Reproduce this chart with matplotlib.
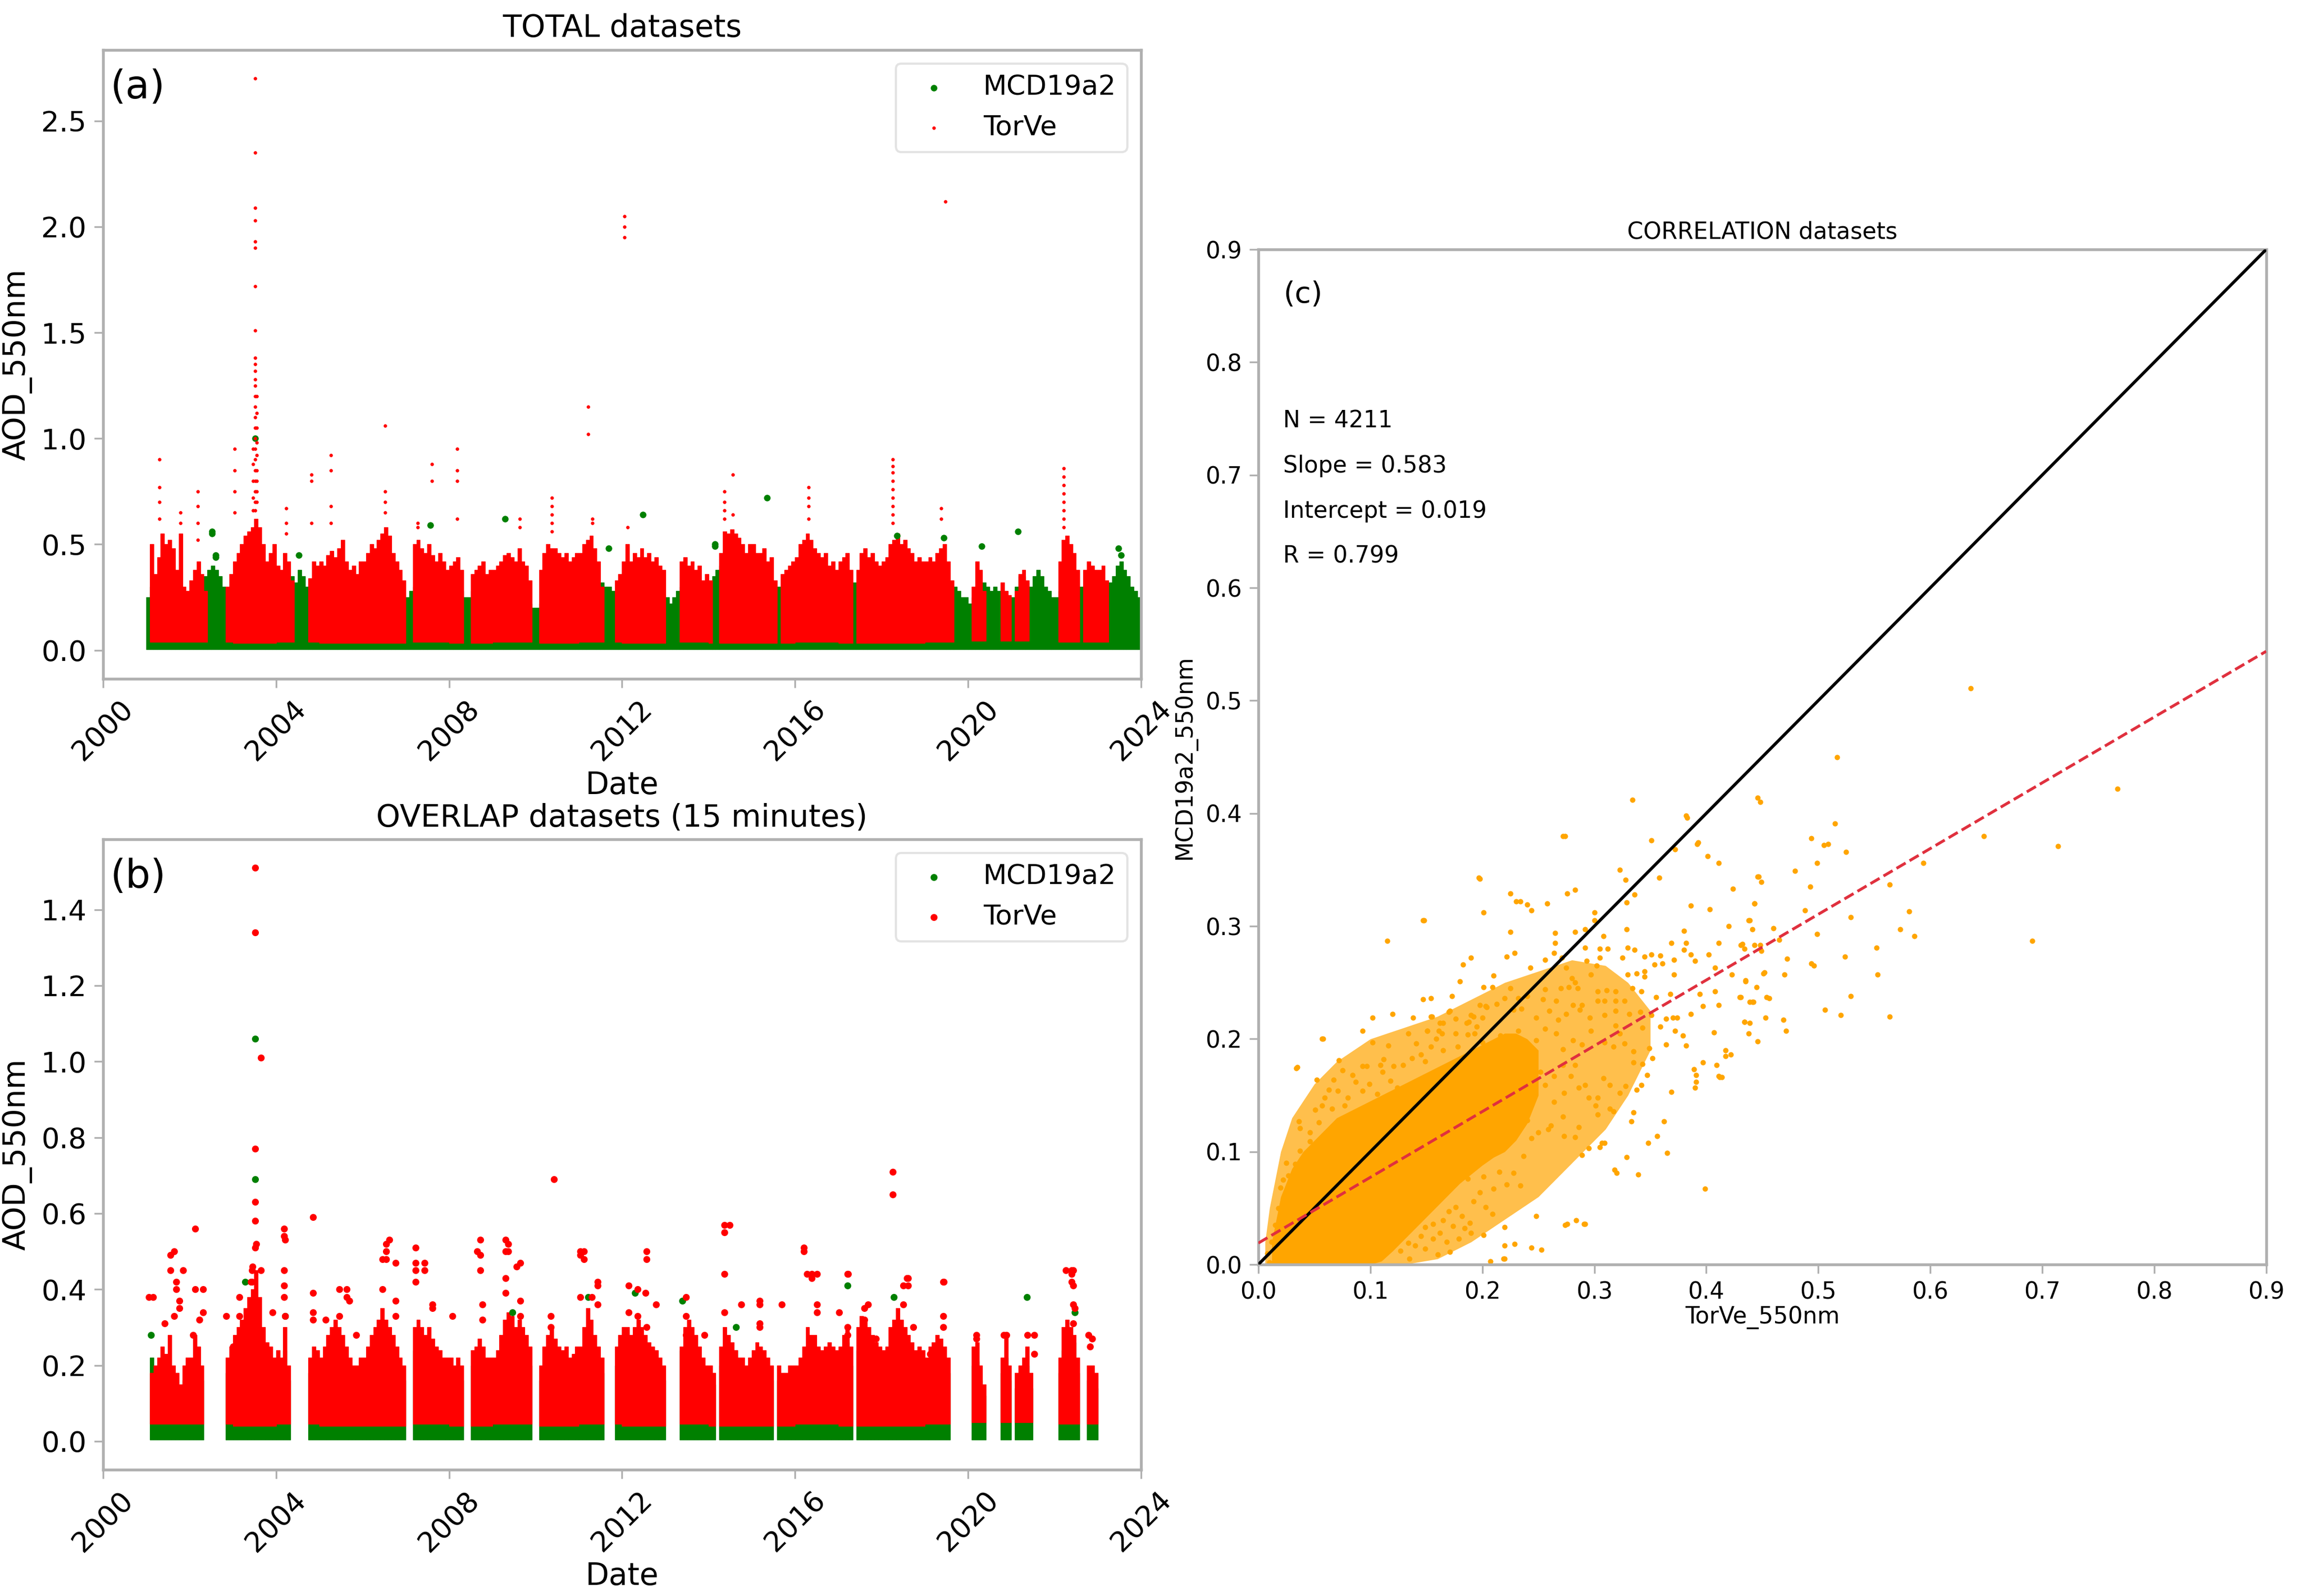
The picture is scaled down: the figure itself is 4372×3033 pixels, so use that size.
import numpy as np
import matplotlib
matplotlib.use("Agg")
import matplotlib.pyplot as plt
import matplotlib.dates as mdates
from datetime import datetime

nan = np.nan
YEARS = list(range(2001, 2024))

# ---------------- Panel (a): TOTAL datasets (monthly dense-cloud envelope)
total_torve_max = [
    nan, .50, .36, .44, .55, .50, .52, .48, .38, .55, .30, .28,   # 2001
    .33, .38, .42, .36, .28, nan, nan, nan, nan, nan, .30, .36,   # 2002
    .42, .46, .50, .54, .56, .58, .62, .58, .50, .42, .46, .50,   # 2003
    .40, .38, .46, .42, .33, nan, nan, nan, nan, .34, .42, .40,   # 2004
    .42, .40, .45, .47, .44, .48, .52, .42, .38, .40, .36, .42,   # 2005
    .42, .46, .50, .48, .52, .55, .58, .54, .46, .42, .38, .33,   # 2006
    nan, nan, .50, .52, .48, .46, .50, .45, .42, .46, .42, .38,   # 2007
    .40, .42, .44, .38, nan, nan, .36, .38, .40, .42, .36, .38,   # 2008
    .38, .40, .42, .45, .46, .44, .42, .48, .42, .40, .33, nan,   # 2009
    nan, .38, .46, .50, .48, .48, .46, .44, .46, .42, .44, .46,   # 2010
    .46, .50, .52, .54, .48, .42, .30, nan, nan, nan, .33, .36,   # 2011
    .42, .50, .42, .46, .44, .48, .44, .46, .42, .44, .40, .38,   # 2012
    nan, nan, nan, nan, .42, .44, .40, .42, .38, .40, .33, .36,   # 2013
    .33, nan, nan, .46, .56, .55, .57, .55, .53, .50, .46, .50,   # 2014
    .50, .46, .46, .48, .42, .44, .33, nan, .36, .38, .40, .42,   # 2015
    .44, .50, .52, .55, .52, .48, .46, .44, .46, .40, .42, .38,   # 2016
    .42, .44, .46, .38, nan, .38, .46, .48, .44, .46, .42, .40,   # 2017
    .42, .44, .50, .52, .55, .50, .52, .48, .46, .42, .44, .42,   # 2018
    .42, .44, .42, .46, .48, .50, .42, .33, nan, nan, nan, nan,   # 2019
    nan, .30, .42, .38, .28, nan, nan, nan, nan, .32, .28, .26,   # 2020
    nan, .28, .36, .38, .33, nan, nan, nan, nan, nan, nan, nan,   # 2021
    nan, .42, .52, .54, .50, .46, .38, nan, .38, .42, .40, .38,   # 2022
    .38, .40, .33, nan, nan, nan, nan, nan, nan, nan, nan, nan,   # 2023
]
total_torve_min = [.04, .04, .035, .04, .035, .035, .04, .035, .04, .035, .04, .035,
                   .04, .035, .035, .04, .035, .035, .04, .045, .045, .04, .04]

total_mcd_max = [
    .25, .30, .30, .32, .35, .35, .30, .30, .28, .25, .22, .20,   # 2001
    .22, .25, .28, .30, .35, .38, .40, .38, .35, .30, .25, .25,   # 2002
    .30, .32, .35, .35, .38, .40, .40, .38, .32, .30, .28, .28,   # 2003
    .28, .28, .30, .32, .35, .32, .38, .35, .30, .28, .25, .25,   # 2004
    .28, .30, .32, .35, .35, .35, .32, .30, .28, .25, .22, .22,   # 2005
    .25, .28, .30, .32, .35, .38, .40, .35, .30, .28, .25, .22,   # 2006
    .25, .28, .30, .32, .32, .30, .32, .30, .28, .25, .25, .22,   # 2007
    .25, .28, .30, .28, .25, .25, .28, .30, .28, .25, .22, .22,   # 2008
    .25, .28, .30, .32, .32, .35, .32, .30, .28, .25, .22, .20,   # 2009
    .20, .22, .28, .30, .32, .32, .30, .30, .28, .25, .25, .25,   # 2010
    .28, .30, .32, .32, .30, .30, .32, .30, .30, .28, .25, .25,   # 2011
    .25, .28, .30, .32, .32, .32, .30, .28, .28, .25, .22, .25,   # 2012
    .25, .22, .25, .28, .30, .32, .30, .28, .28, .25, .22, .22,   # 2013
    .28, .35, .38, .40, .40, .38, .35, .32, .30, .28, .25, .25,   # 2014
    .28, .30, .32, .35, .35, .32, .30, .30, .28, .25, .25, .25,   # 2015
    .25, .28, .32, .35, .35, .32, .30, .28, .28, .25, .25, .22,   # 2016
    .25, .28, .30, .30, .32, .30, .30, .28, .28, .25, .22, .22,   # 2017
    .25, .28, .30, .32, .35, .32, .30, .28, .28, .25, .22, .22,   # 2018
    .25, .25, .28, .30, .32, .30, .28, .25, .30, .28, .25, .25,   # 2019
    .22, .25, .28, .30, .32, .30, .28, .30, .28, .25, .22, .22,   # 2020
    .25, .30, .35, .35, .32, .30, .35, .38, .35, .30, .28, .25,   # 2021
    .25, .28, .30, .32, .32, .30, .28, .30, .28, .25, .22, .22,   # 2022
    .22, .25, .28, .32, .35, .40, .42, .38, .35, .30, .28, .25,   # 2023
]
total_mcd_min = [.005, .005, .003, .005, .003, .003, .005, .003, .005, .003, .005, .003,
                 .005, .003, .003, .005, .003, .003, .005, .005, .005, .005, .005]

total_torve_spikes = [
    ("2001-04-20", [.90, .77, .70, .62]),
    ("2001-10-15", [.65, .60]),
    ("2002-03-10", [.75, .68, .60, .52]),
    ("2003-01-15", [.95, .85, .75, .65]),
    ("2003-06-20", [.95, .88, .80, .72, .66]),
    ("2003-07-08", [2.70, 2.35, 2.09, 2.03, 1.93, 1.90, 1.72, 1.51, 1.38, 1.35, 1.32, 1.28,
                    1.25, 1.20, 1.15, 1.10, 1.05, 1.00, .95, .90, .85, .80, .75, .70, .66]),
    ("2003-07-22", [1.20, 1.12, 1.05, .98, .92, .85, .80, .75, .70]),
    ("2004-03-25", [.67, .60, .55]),
    ("2004-10-25", [.83, .80, .60]),
    ("2005-04-10", [.92, .85, .68, .60]),
    ("2006-07-10", [1.06, .75, .70, .65]),
    ("2007-04-10", [.60, .58]),
    ("2007-08-10", [.88, .80]),
    ("2008-03-10", [.95, .85, .80, .62]),
    ("2009-08-20", [.62, .58]),
    ("2010-05-20", [.72, .68, .64, .60, .56]),
    ("2011-03-20", [1.15, 1.02]),
    ("2011-04-25", [.62, .60]),
    ("2012-01-20", [2.05, 2.00, 1.95]),
    ("2012-02-15", [.58]),
    ("2014-05-15", [.75, .70, .66, .62]),
    ("2014-07-25", [.83, .64]),
    ("2016-04-25", [.77, .72, .68, .62]),
    ("2018-04-05", [.90, .87, .84, .80, .76, .72, .68, .64, .60]),
    ("2019-05-20", [.67, .62]),
    ("2019-06-25", [2.12]),
    ("2022-03-20", [.86, .82, .78, .74, .70, .66, .62, .58]),
]
total_mcd_spikes = [
    ("2002-07-10", [.56, .55]), ("2002-08-10", [.45, .44]), ("2003-07-08", [1.00]),
    ("2004-07-10", [.45]), ("2007-07-25", [.59]), ("2009-04-20", [.62]),
    ("2011-09-10", [.48]), ("2012-06-25", [.64]), ("2014-02-25", [.50, .49]),
    ("2015-05-10", [.72]), ("2018-05-10", [.54]), ("2019-06-10", [.53]),
    ("2020-04-25", [.49]), ("2021-02-25", [.56]), ("2023-06-25", [.48]),
    ("2023-07-15", [.45]),
]

# ---------------- Panel (b): OVERLAP datasets (15 minutes)
overlap_torve_max = [
    nan, .18, .20, .22, .25, .23, .28, .20, .18, .15, .20, .22,   # 2001
    .22, .28, .25, .20, nan, nan, nan, nan, nan, nan, .22, .25,   # 2002
    .28, .30, .32, .35, .38, .40, .45, .38, .30, .26, .25, .22,   # 2003
    .24, .22, .30, .20, nan, nan, nan, nan, nan, .22, .25, .24,   # 2004
    .22, .25, .28, .30, .32, .30, .28, .25, .22, .20, .20, .22,   # 2005
    .22, .25, .28, .30, .32, .35, .32, .30, .28, .25, .22, .20,   # 2006
    nan, nan, .30, .32, .30, .28, .30, .27, .25, .24, .22, .22,   # 2007
    .22, .20, .22, .20, nan, nan, .24, .25, .27, .25, .22, .22,   # 2008
    .22, .24, .28, .32, .34, .33, .30, .32, .30, .28, .25, nan,   # 2009
    nan, .20, .25, .28, .30, .27, .25, .24, .25, .22, .23, .25,   # 2010
    .25, .30, .35, .32, .28, .25, .22, nan, nan, nan, .25, .28,   # 2011
    .30, .30, .28, .30, .32, .30, .28, .26, .25, .24, .22, .20,   # 2012
    nan, nan, nan, nan, .25, .30, .32, .30, .28, .25, .22, .20,   # 2013
    .20, .18, nan, .25, .30, .28, .26, .24, .22, .22, .20, .22,   # 2014
    .24, .26, .25, .24, .22, .20, nan, .20, .18, .18, .20, .20,   # 2015
    .20, .22, .25, .30, .28, .28, .25, .24, .25, .26, .25, .24,   # 2016
    .25, .28, .30, .25, nan, .30, .33, .32, .30, .28, .26, .25,   # 2017
    .24, .25, .30, .32, .35, .32, .30, .28, .26, .24, .25, .24,   # 2018
    .22, .25, .26, .28, .27, .25, .22, nan, nan, nan, nan, nan,   # 2019
    nan, .25, .26, .20, .15, nan, nan, nan, nan, .22, .28, .20,   # 2020
    nan, .18, .20, .22, .25, .18, nan, nan, nan, nan, nan, nan,   # 2021
    nan, .22, .30, .32, .30, .28, .22, nan, nan, .20, .20, .18,   # 2022
    nan, nan, nan, nan, nan, nan, nan, nan, nan, nan, nan, nan,   # 2023
]
overlap_torve_min = [.045, .045, .04, .045, .04, .04, .045, .04, .045, .04, .045, .04,
                     .045, .04, .04, .045, .04, .04, .045, .05, .05, .045, .045]

overlap_mcd_max = [
    nan, .22, .18, .18, .20, .18, .20, .16, .15, .13, .16, .18,   # 2001
    .18, .20, .20, .16, nan, nan, nan, nan, nan, nan, .18, .20,   # 2002
    .22, .24, .26, .28, .28, .30, .32, .28, .24, .20, .20, .18,   # 2003
    .20, .18, .24, .16, nan, nan, nan, nan, nan, .18, .20, .20,   # 2004
    .18, .20, .23, .24, .26, .24, .23, .20, .18, .16, .16, .18,   # 2005
    .18, .20, .23, .24, .26, .28, .26, .24, .23, .20, .18, .16,   # 2006
    nan, nan, .24, .26, .24, .23, .24, .22, .20, .20, .18, .18,   # 2007
    .18, .16, .18, .16, nan, nan, .20, .20, .22, .20, .18, .18,   # 2008
    .18, .20, .23, .26, .28, .30, .25, .26, .24, .23, .20, nan,   # 2009
    nan, .16, .20, .23, .24, .22, .20, .20, .20, .18, .18, .20,   # 2010
    .20, .24, .28, .26, .23, .20, .18, nan, nan, nan, .20, .23,   # 2011
    .24, .24, .23, .26, .26, .24, .23, .21, .20, .20, .18, .16,   # 2012
    nan, nan, nan, nan, .24, .24, .26, .24, .23, .20, .18, .16,   # 2013
    .16, .15, nan, .20, .24, .23, .21, .24, .18, .18, .16, .18,   # 2014
    .20, .21, .20, .20, .18, .16, nan, .16, .15, .15, .16, .16,   # 2015
    .16, .18, .20, .24, .23, .23, .20, .20, .20, .21, .20, .20,   # 2016
    .20, .23, .26, .20, nan, .24, .26, .26, .24, .23, .21, .20,   # 2017
    .20, .20, .24, .28, .28, .26, .24, .23, .21, .20, .20, .20,   # 2018
    .18, .20, .21, .23, .22, .20, .18, nan, nan, nan, nan, nan,   # 2019
    nan, .20, .21, .16, .12, nan, nan, nan, nan, .18, .22, .16,   # 2020
    nan, .14, .16, .18, .20, .14, nan, nan, nan, nan, nan, nan,   # 2021
    nan, .18, .24, .26, .26, .26, .18, nan, nan, .16, .16, .14,   # 2022
    nan, nan, nan, nan, nan, nan, nan, nan, nan, nan, nan, nan,   # 2023
]
overlap_mcd_min = [.004] * 23

overlap_torve_points = [
    ("2001-01-20", [.38]), ("2001-02-25", [.38]), ("2001-06-03", [.31]),
    ("2001-07-25", [.49, .45]), ("2001-08-22", [.50, .33]), ("2001-09-09", [.42, .40]),
    ("2001-10-08", [.37, .35]), ("2001-11-06", [.45]), ("2002-01-30", [.28]),
    ("2002-02-15", [.56, .40]), ("2002-03-26", [.32]), ("2002-04-23", [.40, .34]),
    ("2002-11-06", [.33]), ("2003-01-05", [.25]), ("2003-02-24", [.38, .33]),
    ("2003-06-03", [.42]), ("2003-06-10", [.45, .42]), ("2003-06-17", [.46]),
    ("2003-07-10", [1.51, 1.34, .77, .63, .58, .51]), ("2003-07-16", [.52]),
    ("2003-08-25", [1.01, .45]), ("2003-12-01", [.34]),
    ("2004-03-10", [.56, .54, .45, .41, .38]), ("2004-03-20", [.53, .33]),
    ("2004-11-10", [.59, .39, .34, .32]), ("2005-02-24", [.32]), ("2005-06-17", [.40, .33]),
    ("2005-08-20", [.40, .38]), ("2005-09-10", [.37]), ("2005-11-06", [.28]),
    ("2006-06-17", [.48, .40]), ("2006-07-20", [.52, .50, .48]), ("2006-08-15", [.53]),
    ("2006-10-08", [.47, .37, .33]), ("2007-03-25", [.51, .47, .45, .42]),
    ("2007-06-10", [.47, .45]), ("2007-08-15", [.36, .35]), ("2008-01-30", [.33]),
    ("2008-08-25", [.50]), ("2008-09-20", [.53, .49, .45]), ("2008-10-10", [.36, .32]),
    ("2009-04-23", [.53, .50, .43, .39]), ("2009-05-15", [.52, .50]),
    ("2009-07-25", [.46]), ("2009-08-25", [.47, .37, .33]), ("2010-05-08", [.33, .30]),
    ("2010-06-05", [.69]), ("2011-01-15", [.50, .49, .38]), ("2011-02-15", [.50, .48]),
    ("2011-04-23", [.38]), ("2011-06-10", [.42, .41, .36]),
    ("2012-02-28", [.41, .34]), ("2012-05-10", [.40, .33]), ("2012-07-18", [.39]),
    ("2012-07-25", [.50, .48, .30]), ("2012-10-12", [.36]),
    ("2013-06-25", [.38, .33, .28]), ("2013-11-25", [.28]),
    ("2014-05-15", [.57, .55, .44, .34]), ("2014-06-28", [.57]), ("2014-10-05", [.36]),
    ("2015-03-10", [.37, .36, .31, .30]), ("2015-09-12", [.36]),
    ("2016-03-15", [.51, .50]), ("2016-04-12", [.44]), ("2016-05-20", [.44, .43]),
    ("2016-07-05", [.44, .36, .34]), ("2017-01-08", [.34]), ("2017-03-18", [.44, .30, .28]),
    ("2017-03-25", [.44]), ("2017-08-08", [.35, .32]), ("2017-09-10", [.36]),
    ("2017-11-15", [.27]), ("2018-04-05", [.71, .65]), ("2018-07-01", [.41, .36]),
    ("2018-08-01", [.43]), ("2018-08-10", [.43, .41]), ("2018-09-25", [.30]),
    ("2019-02-14", [.23]), ("2019-06-05", [.42, .33, .30]), ("2019-06-10", [.42]),
    ("2020-03-10", [.28, .27]), ("2020-10-30", [.28]), ("2020-11-20", [.28]),
    ("2021-05-15", [.28]), ("2021-07-12", [.28, .23]),
    ("2022-04-08", [.45]), ("2022-06-05", [.45, .41, .36, .31]),
    ("2022-05-25", [.45, .44, .42]), ("2022-06-20", [.35]),
    ("2022-10-12", [.28]), ("2022-10-27", [.25]), ("2022-11-15", [.27]),
]
overlap_mcd_points = [
    ("2003-07-10", [1.06, .69]), ("2001-02-10", [.28]), ("2003-04-15", [.42]),
    ("2004-03-20", [.33]), ("2009-06-20", [.34]), ("2011-03-20", [.38]),
    ("2012-04-20", [.39]), ("2013-05-25", [.37]), ("2014-08-20", [.30]),
    ("2017-03-20", [.41]), ("2018-04-15", [.38]), ("2021-05-10", [.38]),
    ("2022-06-20", [.34]),
]

# ---------------- Panel (c): CORRELATION datasets
corr_core_torve = [.012, .02, .03, .04, .05, .06, .07, .08, .09, .10, .11, .12, .13,
                   .14, .15, .16, .17, .18, .19, .20, .21, .22, .23, .24, .25]
corr_core_mcd_hi = [.02, .06, .085, .10, .11, .12, .13, .135, .14, .145, .15, .155, .16,
                    .165, .17, .175, .18, .185, .19, .195, .20, .205, .205, .20, .19]
corr_core_mcd_lo = [.0, .0, .0, .0, .0, .0, .0, .0, .0, .0, .003, .012, .022,
                    .032, .042, .052, .062, .072, .08, .088, .095, .10, .11, .125, .15]

corr_semi_torve = [.006, .01, .02, .03, .05, .07, .10, .13, .16, .19, .22, .25, .28, .31,
                   .33, .35]
corr_semi_mcd_hi = [.02, .05, .10, .13, .16, .18, .20, .21, .22, .235, .25, .26, .27, .265,
                    .25, .225]
corr_semi_mcd_lo = [.0, .0, .0, .0, .0, .0, .0, .0, .005, .02, .04, .06, .09, .12,
                    .15, .19]

corr_points = [
    # far / sparse
    (.636, .511), (.517, .450), (.767, .422), (.446, .414), (.448, .410), (.515, .391),
    (.494, .378), (.505, .372), (.509, .373), (.525, .366), (.499, .356), (.479, .349),
    (.446, .344), (.449, .339), (.493, .335), (.648, .380), (.714, .371), (.594, .356),
    (.564, .337), (.443, .320), (.488, .314), (.438, .305), (.441, .297), (.460, .298),
    (.529, .308), (.581, .313), (.573, .297), (.586, .291), (.499, .293), (.465, .288),
    (.431, .283), (.434, .280), (.443, .283), (.449, .278), (.552, .281), (.691, .287),
    (.472, .271), (.524, .273), (.494, .267), (.496, .265), (.451, .258), (.470, .257),
    (.553, .257), (.435, .251), (.445, .246), (.430, .237), (.439, .233), (.442, .233),
    (.456, .236), (.529, .238), (.506, .226), (.520, .221), (.564, .220), (.434, .215),
    (.439, .214), (.453, .219), (.469, .217), (.471, .207), (.438, .205), (.446, .198),
    (.198, .342), (.147, .305), (.115, .287), (.034, .174), (.058, .200), (.334, .412),
    (.272, .380), (.383, .396), (.392, .373), (.417, .185), (.412, .166), (.399, .067),
    (.339, .080), (.318, .084), (.291, .036), (.274, .035), (.244, .015), (.219, .005),
    (.248, .043), (.407, .206), (.391, .162),
    # upper band
    (.382, .398), (.274, .380), (.351, .376), (.393, .374), (.372, .368), (.401, .362),
    (.411, .356), (.323, .350), (.197, .343), (.328, .341), (.358, .343), (.447, .344),
    (.424, .333), (.225, .329), (.276, .329), (.283, .332), (.336, .328), (.230, .322),
    (.234, .322), (.240, .319), (.244, .314), (.258, .320), (.329, .321), (.386, .318),
    (.403, .315), (.443, .320), (.201, .312), (.300, .312), (.148, .305), (.300, .305),
    (.439, .305), (.420, .300), (.380, .296), (.329, .297), (.225, .295), (.292, .297),
    (.283, .295), (.265, .294), (.308, .291), (.265, .285), (.369, .285), (.382, .285),
    (.411, .285), (.432, .284), (.292, .281), (.305, .280), (.312, .280), (.330, .281),
    (.336, .279), (.351, .275), (.380, .279), (.386, .275), (.402, .275), (.448, .283),
    (.190, .272), (.183, .266), (.222, .273), (.229, .276), (.256, .270), (.264, .276),
    (.271, .272), (.293, .269), (.305, .272), (.325, .272), (.359, .274), (.345, .273),
    (.371, .270), (.390, .269), (.243, .263), (.275, .263), (.302, .265), (.354, .266),
    (.361, .267), (.408, .263), (.452, .259), (.210, .256), (.297, .257), (.330, .257),
    (.338, .258), (.345, .255), (.371, .257), (.423, .257), (.435, .252), (.180, .251),
    (.280, .254), (.283, .250), (.345, .260),
    # middle band
    (.201, .246), (.209, .246), (.225, .245), (.256, .244), (.270, .245), (.277, .246),
    (.285, .245), (.303, .242), (.311, .243), (.319, .242), (.334, .245), (.342, .242),
    (.368, .240), (.394, .240), (.408, .242), (.431, .237), (.454, .237), (.147, .235),
    (.154, .236), (.173, .238), (.198, .230), (.220, .236), (.232, .236), (.240, .238),
    (.254, .235), (.266, .234), (.281, .230), (.289, .230), (.303, .234), (.309, .234),
    (.319, .234), (.327, .234), (.355, .237), (.397, .229), (.411, .230), (.441, .233),
    (.155, .220), (.165, .214), (.171, .225), (.176, .218), (.188, .215), (.192, .220),
    (.204, .228), (.213, .231), (.228, .226), (.235, .227), (.248, .219), (.260, .225),
    (.268, .217), (.275, .222), (.287, .226), (.296, .219), (.309, .221), (.319, .225),
    (.331, .222), (.341, .224), (.351, .221), (.364, .218), (.370, .219), (.386, .222),
    (.434, .215), (.151, .207), (.161, .207), (.187, .204), (.193, .205),
    # lower band
    (.309, .197), (.317, .193), (.327, .196), (.335, .189), (.349, .192), (.364, .195),
    (.379, .203), (.382, .194), (.397, .179), (.409, .177), (.417, .190), (.422, .186),
    (.389, .173), (.391, .168), (.390, .157), (.411, .167), (.414, .166), (.369, .153),
    (.362, .127), (.333, .127), (.356, .114), (.338, .155), (.347, .168), (.352, .183),
    (.343, .178), (.335, .179), (.328, .158), (.323, .152), (.317, .136), (.314, .159),
    (.308, .165), (.303, .148), (.303, .133), (.301, .141), (.295, .148), (.292, .159),
    (.286, .157), (.309, .108), (.305, .104), (.295, .103), (.283, .113), (.273, .114),
    (.272, .131), (.261, .123), (.259, .120), (.250, .117), (.244, .112), (.240, .128),
    (.264, .144), (.273, .152), (.279, .167), (.283, .177), (.272, .177), (.264, .167),
    (.256, .159), (.252, .171), (.244, .187), (.238, .177), (.230, .171), (.228, .161),
    (.220, .152), (.323, .205), (.319, .212), (.297, .207), (.289, .195), (.281, .199),
    (.272, .191), (.266, .205), (.256, .209), (.248, .199), (.232, .207), (.224, .195),
    (.216, .203), (.210, .191), (.200, .197), (.372, .207), (.359, .211), (.374, .219),
    (.343, .210), (.276, .036), (.284, .039), (.292, .036), (.253, .013), (.335, .135),
    (.342, .159), (.320, .081), (.307, .108), (.289, .097), (.314, .138), (.286, .122),
    (.348, .108), (.329, .095), (.365, .099),
    # upper-left of the core
    (.035, .175), (.057, .200), (.052, .164), (.067, .164), (.072, .181), (.075, .172),
    (.084, .168), (.093, .207), (.102, .219), (.102, .197), (.093, .176), (.097, .176),
    (.109, .177), (.111, .171), (.116, .194), (.120, .222), (.134, .205), (.138, .219),
    (.141, .196), (.154, .220), (.151, .207), (.164, .205), (.159, .200), (.170, .224),
    (.176, .205), (.186, .214), (.190, .221), (.195, .211), (.200, .219), (.203, .229),
    (.162, .214), (.112, .182), (.121, .176), (.129, .177), (.137, .183), (.145, .186),
    (.149, .180), (.154, .193), (.165, .190), (.178, .193), (.036, .127), (.037, .121),
    (.033, .089), (.037, .101), (.054, .126), (.046, .117), (.020, .048), (.022, .041),
    (.025, .064), (.027, .079), (.059, .148), (.063, .155), (.071, .154), (.080, .148),
    (.077, .141), (.057, .141), (.066, .138), (.051, .137), (.046, .109), (.087, .162),
    (.099, .160), (.106, .151), (.093, .154), (.118, .163), (.124, .157),
    # lower-right of the core
    (.135, .005), (.127, .012), (.134, .019), (.149, .014), (.156, .023), (.162, .028),
    (.171, .011), (.165, .039), (.174, .034), (.182, .043), (.189, .037), (.190, .028),
    (.201, .026), (.203, .051), (.209, .045), (.220, .033), (.220, .017), (.229, .018),
    (.220, .005), (.207, .003), (.192, .056), (.198, .064), (.210, .067), (.222, .071),
    (.234, .070), (.201, .078), (.215, .082), (.228, .081), (.237, .096), (.187, .076),
    (.176, .051), (.170, .047), (.156, .036), (.149, .033), (.145, .025), (.140, .017),
    (.179, .023), (.168, .020), (.160, .009), (.184, .032),
    # left fringe
    (.015, .035), (.018, .050), (.012, .020), (.016, .010), (.022, .075), (.008, .010),
    (.010, .002), (.025, .090), (.020, .068),
]
corr_n = 4211
corr_slope = 0.583
corr_intercept = 0.019
corr_r = 0.799

# ---------------- drawing
GRAY = "#b0b0b0"
plt.rcParams["font.family"] = ["DejaVu Sans"]

fig = plt.figure(figsize=(4372 / 300, 3033 / 300), dpi=300)
ax_a = fig.add_axes([0.0448, 0.5747, 0.4513, 0.394])
ax_b = fig.add_axes([0.0448, 0.0791, 0.4513, 0.395])
ax_c = fig.add_axes([0.5471, 0.2077, 0.4382, 0.636])

month_starts = [datetime(y, m, 1) for y in YEARS for m in range(1, 13)]
month_ends = [datetime(y + (m == 12), m % 12 + 1, 1) for y in YEARS for m in range(1, 13)]
mx0 = mdates.date2num(month_starts)
mw = mdates.date2num(month_ends) - mx0


def monthly_bars(ax, vmax, vmin_year, color):
    hi = np.array(vmax, dtype=float)
    lo = np.repeat(np.array(vmin_year, dtype=float), 12)
    ok = ~np.isnan(hi)
    ax.bar(mx0[ok], (hi - lo)[ok], bottom=lo[ok], width=mw[ok], align="edge",
           color=color, edgecolor=color, linewidth=0.3, zorder=2)


def spike_points(ax, groups, color, s, label, z):
    xs, ys = [], []
    for d, vals in groups:
        xn = mdates.date2num(datetime.strptime(d, "%Y-%m-%d"))
        for v in vals:
            xs.append(xn)
            ys.append(v)
    ax.scatter(xs, ys, s=s, color=color, linewidths=0, label=label, zorder=z)


def style_time_axis(ax, title, tag, ylim):
    ax.set_xlim(mdates.date2num(datetime(2000, 1, 1)), mdates.date2num(datetime(2024, 1, 1)))
    ax.set_ylim(*ylim)
    ax.xaxis.set_major_locator(mdates.YearLocator(4))
    ax.xaxis.set_major_formatter(mdates.DateFormatter("%Y"))
    for lab in ax.get_xticklabels():
        lab.set_rotation(45)
    ax.tick_params(axis="both", labelsize=13, color=GRAY, length=4)
    for sp in ax.spines.values():
        sp.set_color(GRAY)
        sp.set_linewidth(1.3)
    ax.set_xlabel("Date", fontsize=14, labelpad=2)
    ax.set_ylabel("AOD_550nm", fontsize=14)
    ax.set_title(title, fontsize=14, pad=6)
    ax.text(0.007, 0.94, tag, transform=ax.transAxes, fontsize=18, ha="left", va="center")
    leg = ax.legend(loc="upper right", fontsize=12.5, frameon=True, framealpha=0.8)
    leg.get_frame().set_edgecolor("#dddddd")


# (a)
monthly_bars(ax_a, total_mcd_max, total_mcd_min, "green")
spike_points(ax_a, total_mcd_spikes, "green", 9, "MCD19a2", 3)
monthly_bars(ax_a, total_torve_max, total_torve_min, "red")
spike_points(ax_a, total_torve_spikes, "red", 2.5, "TorVe", 4)
style_time_axis(ax_a, "TOTAL datasets", "(a)", (-0.135, 2.835))
ax_a.set_yticks([0.0, 0.5, 1.0, 1.5, 2.0, 2.5])

# (b)
monthly_bars(ax_b, overlap_mcd_max, overlap_mcd_min, "green")
spike_points(ax_b, overlap_mcd_points, "green", 10, "MCD19a2", 3)
monthly_bars(ax_b, overlap_torve_max, overlap_torve_min, "red")
spike_points(ax_b, overlap_torve_points, "red", 10, "TorVe", 4)
style_time_axis(ax_b, "OVERLAP datasets (15 minutes)", "(b)", (-0.075, 1.585))
ax_b.set_yticks([0.0, 0.2, 0.4, 0.6, 0.8, 1.0, 1.2, 1.4])

# (c)
ax_c.fill_between(corr_semi_torve, corr_semi_mcd_lo, corr_semi_mcd_hi,
                  color="orange", alpha=0.7, linewidth=0, zorder=1)
ax_c.fill_between(corr_core_torve, corr_core_mcd_lo, corr_core_mcd_hi,
                  color="orange", linewidth=0, zorder=2)
cx, cy = zip(*corr_points)
ax_c.scatter(cx, cy, s=6, color="orange", linewidths=0, zorder=2)
lx = np.array([0.0, 0.9])
ax_c.plot(lx, lx, color="black", linewidth=1.4, zorder=3)
ax_c.plot(lx, corr_slope * lx + corr_intercept, color="#e0303e", linestyle="--",
          linewidth=1.3, zorder=3)
ax_c.set_xlim(0, 0.9)
ax_c.set_ylim(0, 0.9)
ticks = [0.0, 0.1, 0.2, 0.3, 0.4, 0.5, 0.6, 0.7, 0.8, 0.9]
ax_c.set_xticks(ticks)
ax_c.set_yticks(ticks)
ax_c.tick_params(axis="both", labelsize=10.5, color=GRAY, length=4)
for sp in ax_c.spines.values():
    sp.set_color(GRAY)
    sp.set_linewidth(1.3)
ax_c.set_xlabel("TorVe_550nm", fontsize=10.5, labelpad=1)
ax_c.set_ylabel("MCD19a2_550nm", fontsize=10.5)
ax_c.set_title("CORRELATION datasets", fontsize=10.5, pad=5)
ax_c.text(0.022, 0.86, "(c)", fontsize=13.5, ha="left", va="center")
ax_c.text(0.022, 0.748, f"N = {corr_n}", fontsize=10.5, ha="left", va="center")
ax_c.text(0.022, 0.708, f"Slope = {corr_slope:.3f}", fontsize=10.5, ha="left", va="center")
ax_c.text(0.022, 0.668, f"Intercept = {corr_intercept:.3f}", fontsize=10.5, ha="left", va="center")
ax_c.text(0.022, 0.628, f"R = {corr_r:.3f}", fontsize=10.5, ha="left", va="center")

fig.savefig("out.png", dpi=300)
